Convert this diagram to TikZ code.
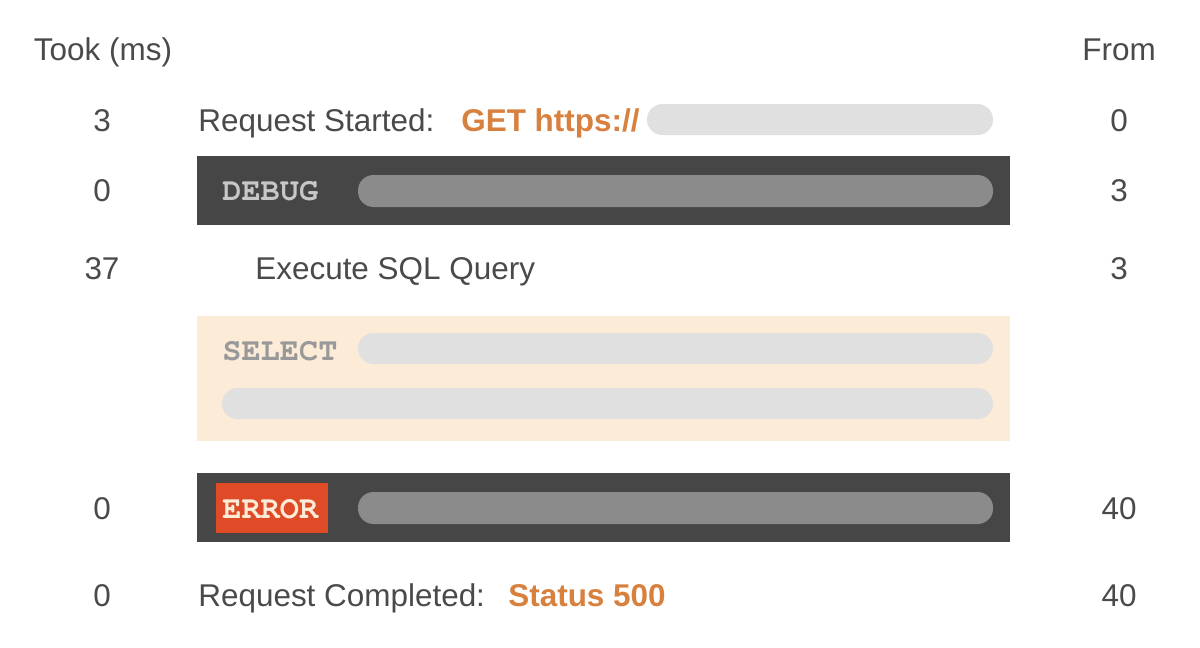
\documentclass[tikz,border=0pt]{standalone}
\usepackage[T1]{fontenc}
\usepackage{fontspec}
\setmainfont{Liberation Sans}
\usetikzlibrary{positioning}

\definecolor{inkgray}{HTML}{4A4A4A}
\definecolor{reqorange}{HTML}{D8803E}
\definecolor{bandgray}{HTML}{464646}
\definecolor{pilldark}{HTML}{8B8B8B}
\definecolor{pilllight}{HTML}{E0E0E0}
\definecolor{peach}{HTML}{FBEBD7}
\definecolor{errred}{HTML}{E04B27}

\tikzset{
	lbl/.style={anchor=base west, inner sep=0pt, text=inkgray, font=\fontsize{17.9}{20}\selectfont},
	num/.style={anchor=base, inner sep=0pt, text=inkgray, font=\fontsize{17.9}{20}\selectfont},
	hilite/.style={anchor=base west, inner sep=0pt, text=reqorange, font=\bfseries\fontsize{17.9}{20}\selectfont},
	tag/.style={anchor=base west, inner sep=0pt, font=\fontencoding{T1}\fontfamily{pcr}\bfseries\fontsize{18.2}{20}\selectfont},
	pill/.style={rounded corners=0.31cm},
}

\begin{document}
\begin{tikzpicture}[x=0.02cm, y=-0.02cm]
			%%%%% START %%%%%
			
			\useasboundingbox[fill=white] (0, 0) rectangle (1200, 647);
			
			% column heads
			\node[num] (tookhead) at (103, 60) {Took (ms)};
			\node[num] (fromhead) at (1119, 60) {From};
			
			% request started
			\node[num] (took1) at (102, 131) {3};
			\node[lbl] (started) at (198, 131) {Request Started:};
			\node[hilite] (geturl) at (461, 131) {GET https://};
			\fill[pilllight, pill] (647, 104) rectangle (993, 135);
			\node[num] (from1) at (1119, 131) {0};
			
			% debug band
			\fill[bandgray] (197, 156) rectangle (1010, 225);
			\node[num] (took2) at (102, 201) {0};
			\node[tag, text=black!22] (debugtag) at (222, 200) {DEBUG};
			\fill[pilldark, pill] (358, 175) rectangle (993, 207);
			\node[num] (from2) at (1119, 201) {3};
			
			% sql query
			\node[num] (took3) at (102, 279) {37};
			\node[lbl] (sqlquery) at (255, 279) {Execute SQL Query};
			\node[num] (from3) at (1119, 279) {3};
			
			\fill[peach] (197, 316) rectangle (1010, 441);
			\node[tag, text=black!40] (selecttag) at (222, 360) {SELECT};
			\fill[pilllight, pill] (358, 333) rectangle (993, 364);
			\fill[pilllight, pill] (222, 388) rectangle (993, 419);
			
			% error band
			\fill[bandgray] (197, 473) rectangle (1010, 542);
			\fill[errred] (216, 483) rectangle (328, 533);
			\node[num] (took4) at (102, 519) {0};
			\node[tag, text=peach] (errortag) at (222, 518) {ERROR};
			\fill[pilldark, pill] (358, 492) rectangle (993, 524);
			\node[num] (from4) at (1119, 519) {40};
			
			% request completed
			\node[num] (took5) at (102, 606) {0};
			\node[lbl] (completed) at (198, 606) {Request Completed:};
			\node[hilite] (status) at (508, 606) {Status 500};
			\node[num] (from5) at (1119, 606) {40};
			
			%%%%% END %%%%%
\end{tikzpicture}
\end{document}
